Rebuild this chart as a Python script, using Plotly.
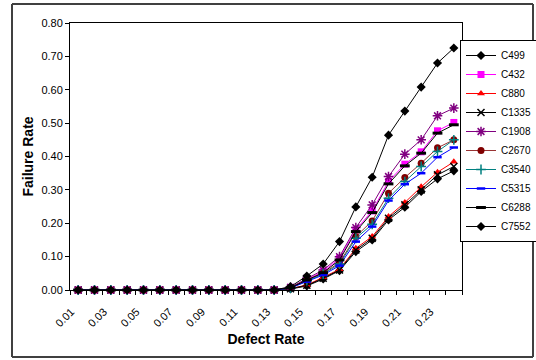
import plotly.graph_objects as go

defect_rate = ["0.01", "0.02", "0.03", "0.04", "0.05", "0.06", "0.07", "0.08",
               "0.09", "0.10", "0.11", "0.12", "0.13", "0.14", "0.15", "0.16",
               "0.17", "0.18", "0.19", "0.20", "0.21", "0.22", "0.23", "0.24"]
tick_text = [d if i % 2 == 0 else "" for i, d in enumerate(defect_rate)]

zeros = [0.0] * 13
c499 = zeros + [0.003, 0.012, 0.033, 0.058, 0.115, 0.150, 0.210, 0.248, 0.295, 0.333, 0.357]
c432 = zeros + [0.008, 0.032, 0.055, 0.095, 0.180, 0.237, 0.325, 0.377, 0.414, 0.477, 0.502]
c880 = zeros + [0.004, 0.015, 0.038, 0.062, 0.125, 0.160, 0.220, 0.262, 0.309, 0.353, 0.384]
c1335 = zeros + [0.004, 0.014, 0.035, 0.060, 0.120, 0.155, 0.215, 0.255, 0.300, 0.345, 0.370]
c1908 = zeros + [0.008, 0.035, 0.060, 0.100, 0.187, 0.255, 0.340, 0.407, 0.450, 0.522, 0.545]
c2670 = zeros + [0.007, 0.030, 0.050, 0.082, 0.160, 0.207, 0.290, 0.337, 0.380, 0.426, 0.450]
c3540 = zeros + [0.006, 0.028, 0.048, 0.078, 0.155, 0.197, 0.275, 0.325, 0.370, 0.415, 0.450]
c5315 = zeros + [0.006, 0.025, 0.045, 0.073, 0.145, 0.190, 0.268, 0.317, 0.350, 0.398, 0.427]
c6288 = zeros + [0.007, 0.030, 0.052, 0.090, 0.175, 0.232, 0.318, 0.372, 0.410, 0.470, 0.495]
c7552 = zeros + [0.010, 0.042, 0.078, 0.145, 0.249, 0.338, 0.464, 0.536, 0.608, 0.680, 0.725]

series = [
    ("C499", c499, "black", dict(symbol="diamond", size=7, color="black")),
    ("C432", c432, "#FF00FF", dict(symbol="square", size=7, color="#FF00FF")),
    ("C880", c880, "#FF0000", dict(symbol="triangle-up", size=7, color="#FF0000")),
    ("C1335", c1335, "black", dict(symbol="x-thin-open", size=7, color="black", line=dict(width=1.5, color="black"))),
    ("C1908", c1908, "#800080", dict(symbol="asterisk-open", size=8, color="#800080", line=dict(width=1.5, color="#800080"))),
    ("C2670", c2670, "#993333", dict(symbol="circle", size=7, color="#800000")),
    ("C3540", c3540, "#008080", dict(symbol="cross-thin-open", size=7, color="#008080", line=dict(width=1.5, color="#008080"))),
    ("C5315", c5315, "#0000FF", dict(symbol="line-ew-open", size=6, color="#0000FF", line=dict(width=2.5, color="#0000FF"))),
    ("C6288", c6288, "black", dict(symbol="line-ew-open", size=7, color="black", line=dict(width=3, color="black"))),
    ("C7552", c7552, "black", dict(symbol="diamond", size=7, color="black")),
]

fig = go.Figure()
for name, vals, lc, mk in series:
    fig.add_trace(go.Scatter(x=defect_rate, y=vals, name=name, mode="lines+markers",
                             line=dict(color=lc, width=1), marker=mk, cliponaxis=False))

L, R, T, B = 70, 74, 23, 70
W, H = 536, 360
pw, ph = W - L - R, H - T - B

def px_x(x):
    return (x - L) / pw

def px_y(y):
    return (H - B - y) / ph

frame_style = dict(color="#404040", width=2)
fx0, fx1, fy0, fy1 = px_x(12), px_x(533), px_y(357), px_y(4)

fig.update_layout(
    width=W, height=H,
    margin=dict(l=L, r=R, t=T, b=B, autoexpand=False),
    paper_bgcolor="white", plot_bgcolor="white",
    font=dict(family="Liberation Sans, Arial", size=11, color="black"),
    showlegend=True,
    legend=dict(x=px_x(460), xanchor="left", y=px_y(40), yanchor="top",
                bordercolor="black", borderwidth=1, bgcolor="white",
                font=dict(size=10), itemwidth=30, tracegroupgap=0),
    xaxis=dict(type="category", range=[-0.5, 23.5], tickmode="array",
               tickvals=defect_rate, ticktext=tick_text, tickson="boundaries",
               ticks="outside", ticklen=4, tickcolor="black", tickangle=-45,
               ticklabelstandoff=10, ticklabelshift=-7,
               showline=True, linecolor="black", linewidth=1, mirror=True,
               showgrid=False, zeroline=False,
               title=dict(text="<b>Defect Rate</b>", font=dict(size=14), standoff=6)),
    yaxis=dict(range=[0, 0.8], dtick=0.1, tick0=0, tickformat=".2f",
               ticks="outside", ticklen=4, tickcolor="black",
               showline=True, linecolor="black", linewidth=1, mirror=True,
               showgrid=False, zeroline=False,
               title=dict(text="<b>Failure Rate</b>", font=dict(size=14), standoff=4)),
    shapes=[
        dict(type="line", xref="paper", yref="paper", x0=fx0, x1=fx1, y0=fy1, y1=fy1, line=frame_style, layer="above"),
        dict(type="line", xref="paper", yref="paper", x0=fx0, x1=fx1, y0=fy0, y1=fy0, line=frame_style, layer="above"),
        dict(type="line", xref="paper", yref="paper", x0=fx0, x1=fx0, y0=fy0, y1=fy1, line=frame_style, layer="above"),
        dict(type="line", xref="paper", yref="paper", x0=fx1, x1=fx1, y0=fy0, y1=fy1, line=frame_style, layer="above"),
    ],
)

fig.write_html("out.html", config={"displayModeBar": False},
               post_script="document.body.style.margin='0';")
